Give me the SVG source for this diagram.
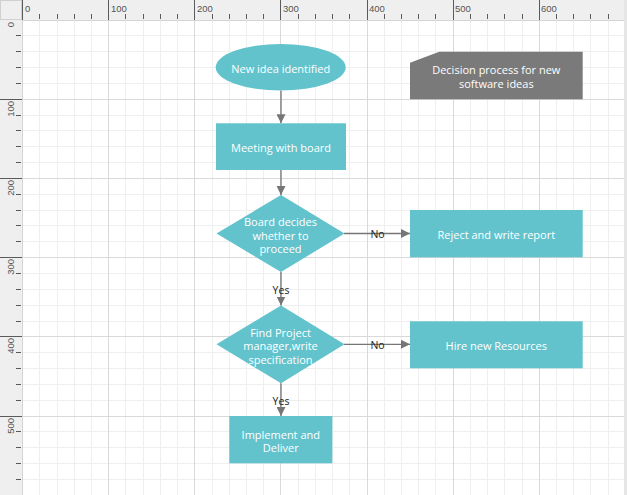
<svg xmlns="http://www.w3.org/2000/svg" width="627" height="495" viewBox="0 0 627 495">
<defs>
<style>
.minor{stroke:#efefef;stroke-width:1}
.major{stroke:#d9d9d9;stroke-width:1}
.tick{stroke:#5a5a5a;stroke-width:1}
.rl{font-family:"Liberation Sans",Arial,sans-serif;font-size:9.5px;fill:#555}
.node{fill:#62C3CD}
.nt{font-family:"Open Sans","Noto Sans",sans-serif;font-size:11px;fill:#ffffff;text-anchor:middle;dominant-baseline:central}
.conn{stroke:#767676;stroke-width:1.3;fill:none}
.lbl{font-family:"Open Sans","Noto Sans",sans-serif;font-size:10.5px;fill:#222;text-anchor:middle;dominant-baseline:central}
</style>
<marker id="arr" viewBox="0 0 10 10" refX="10" refY="5" markerWidth="9" markerHeight="9" markerUnits="userSpaceOnUse" orient="auto">
<path d="M0,0 L10,5 L0,10 Z" fill="#767676"/>
</marker>
</defs>
<rect x="0" y="0" width="627" height="495" fill="#ffffff"/>
<g id="grid">
<path class="minor" d="M39.5,20V495M57.5,20V495M74.5,20V495M91.5,20V495M125.5,20V495M143.5,20V495M160.5,20V495M177.5,20V495M212.5,20V495M229.5,20V495M246.5,20V495M263.5,20V495M298.5,20V495M315.5,20V495M332.5,20V495M349.5,20V495M384.5,20V495M401.5,20V495M418.5,20V495M435.5,20V495M470.5,20V495M487.5,20V495M504.5,20V495M522.5,20V495M556.5,20V495M573.5,20V495M590.5,20V495M608.5,20V495"/>
<path class="minor" d="M22,35.5H627M22,51.5H627M22,67.5H627M22,83.5H627M22,115.5H627M22,130.5H627M22,146.5H627M22,162.5H627M22,194.5H627M22,210.5H627M22,225.5H627M22,241.5H627M22,273.5H627M22,289.5H627M22,305.5H627M22,321.5H627M22,352.5H627M22,368.5H627M22,384.5H627M22,400.5H627M22,431.5H627M22,447.5H627M22,463.5H627M22,479.5H627"/>
<path class="major" d="M108.5,20V495M194.5,20V495M280.5,20V495M367.5,20V495M453.5,20V495M539.5,20V495M625.5,20V495"/>
<path class="major" d="M22,99.5H627M22,178.5H627M22,257.5H627M22,336.5H627M22,416.5H627"/>
</g>
<g id="rulers">
<rect x="0" y="0" width="627" height="20" fill="#efefef"/>
<rect x="0" y="0" width="22" height="495" fill="#efefef"/>
<rect x="0.5" y="0.5" width="21" height="19" fill="#efefef" stroke="#d0d0d0"/>
<path d="M22,20.5H627M22.5,20V495" stroke="#d4d4d4"/>
<path class="tick" d="M22.5,0V20M108.5,0V20M194.5,0V20M280.5,0V20M367.5,0V20M453.5,0V20M539.5,0V20"/>
<path class="tick" d="M39.5,14V19M57.5,14V19M74.5,14V19M91.5,14V19M125.5,14V19M143.5,14V19M160.5,14V19M177.5,14V19M212.5,14V19M229.5,14V19M246.5,14V19M263.5,14V19M298.5,14V19M315.5,14V19M332.5,14V19M349.5,14V19M384.5,14V19M401.5,14V19M418.5,14V19M435.5,14V19M470.5,14V19M487.5,14V19M504.5,14V19M522.5,14V19M556.5,14V19M573.5,14V19M590.5,14V19M608.5,14V19"/>
<path class="tick" d="M0,99.5H22M0,178.5H22M0,257.5H22M0,336.5H22M0,416.5H22"/>
<path class="tick" d="M16,35.5H21M16,51.5H21M16,67.5H21M16,83.5H21M16,115.5H21M16,130.5H21M16,146.5H21M16,162.5H21M16,194.5H21M16,210.5H21M16,225.5H21M16,241.5H21M16,273.5H21M16,289.5H21M16,305.5H21M16,321.5H21M16,352.5H21M16,368.5H21M16,384.5H21M16,400.5H21M16,431.5H21M16,447.5H21M16,463.5H21M16,479.5H21"/>
<text class="rl" x="25" y="12">0</text>
<text class="rl" x="111" y="12">100</text>
<text class="rl" x="197" y="12">200</text>
<text class="rl" x="283" y="12">300</text>
<text class="rl" x="369" y="12">400</text>
<text class="rl" x="455" y="12">500</text>
<text class="rl" x="541" y="12">600</text>
<text class="rl" transform="translate(14,22) rotate(-90)" text-anchor="end">0</text>
<text class="rl" transform="translate(14,101) rotate(-90)" text-anchor="end">100</text>
<text class="rl" transform="translate(14,180) rotate(-90)" text-anchor="end">200</text>
<text class="rl" transform="translate(14,259) rotate(-90)" text-anchor="end">300</text>
<text class="rl" transform="translate(14,338) rotate(-90)" text-anchor="end">400</text>
<text class="rl" transform="translate(14,418) rotate(-90)" text-anchor="end">500</text>
<rect x="624" y="0" width="3" height="495" fill="#e6e6e6"/>
</g>
<g id="connectors">
<path class="conn" d="M281,90.7V123.3" marker-end="url(#arr)"/>
<path class="conn" d="M281,170V195" marker-end="url(#arr)"/>
<path class="conn" d="M344,233.5H410" marker-end="url(#arr)"/>
<text class="lbl" x="377.5" y="234">No</text>
<path class="conn" d="M281,272V305.5" marker-end="url(#arr)"/>
<text class="lbl" x="281" y="289.5">Yes</text>
<path class="conn" d="M344,344.3H410" marker-end="url(#arr)"/>
<text class="lbl" x="377.5" y="345">No</text>
<path class="conn" d="M281,383.3V416" marker-end="url(#arr)"/>
<text class="lbl" x="281" y="400.5">Yes</text>
</g>
<g id="new-idea">
<ellipse class="node" cx="280.7" cy="67.3" rx="65" ry="23.3"/>
<text class="nt" x="280.7" y="68">New idea identified</text>
</g>
<g id="meeting">
<rect class="node" x="216" y="123.3" width="130" height="46.7"/>
<text class="nt" x="281" y="147.2">Meeting with board</text>
</g>
<g id="board-decides">
<polygon class="node" points="281,195 344.5,233.5 281,272 216.5,233.5"/>
<text class="nt" x="280.5" y="221.5">Board decides</text>
<text class="nt" x="280.5" y="235">whether to</text>
<text class="nt" x="280.5" y="248.5">proceed</text>
</g>
<g id="reject">
<rect class="node" x="410" y="210" width="172.7" height="47.3"/>
<text class="nt" x="496.3" y="234">Reject and write report</text>
</g>
<g id="find-pm">
<polygon class="node" points="281,305.5 344.5,344.3 281,383.3 216.5,344.3"/>
<text class="nt" x="280.5" y="332">Find Project</text>
<text class="nt" x="280.5" y="345.5">manager,write</text>
<text class="nt" x="280.5" y="359">specification</text>
</g>
<g id="hire">
<rect class="node" x="410" y="321.3" width="172.7" height="47"/>
<text class="nt" x="496.3" y="345.5">Hire new Resources</text>
</g>
<g id="implement">
<rect class="node" x="229.3" y="416" width="103" height="47.3"/>
<text class="nt" x="280.8" y="434">Implement and</text>
<text class="nt" x="280.8" y="447.5">Deliver</text>
</g>
<g id="annotation">
<polygon points="439.3,51.7 582.7,51.7 582.7,99.3 410,99.3 410,62.7" fill="#7a7a7a"/>
<text class="nt" x="496.3" y="69.5">Decision process for new</text>
<text class="nt" x="496.3" y="83.5">software ideas</text>
</g>
</svg>
